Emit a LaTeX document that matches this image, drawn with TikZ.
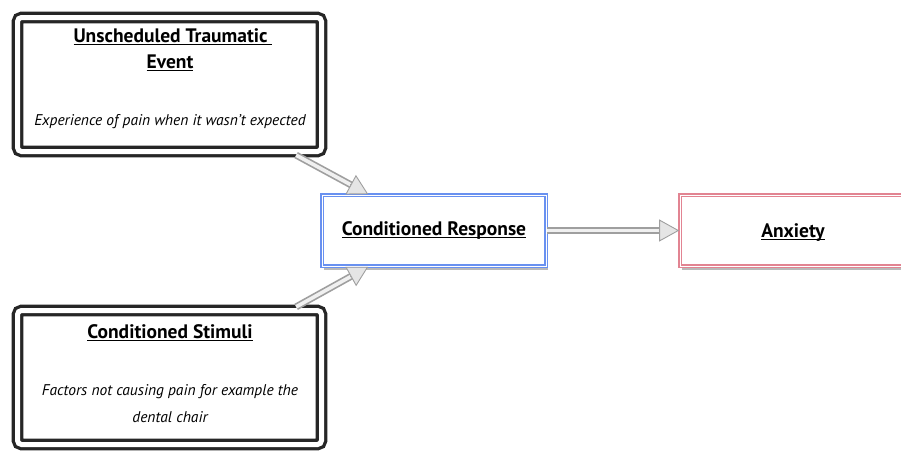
\documentclass[tikz,border=0pt]{standalone}
\usepackage{fontspec}
\setmainfont{PT Sans}
\usetikzlibrary{shadows,arrows.meta,calc}
\newcommand\myul[1]{\setbox0\hbox{#1}\rlap{\rule[-3pt]{\wd0}{1.2pt}}\box0}
\definecolor{crblue}{RGB}{105,145,240}
\definecolor{anpink}{RGB}{226,132,146}
\tikzset{
  blackbox/.style={draw=black!85, double=white, double distance=5pt, line width=3.3pt,
    rounded corners=4pt, fill=white, minimum width=304pt, minimum height=134pt,
    drop shadow={shadow xshift=2pt, shadow yshift=-4pt, opacity=0.55}},
  colbox/.style={double=white, double distance=0.7pt, line width=1.6pt, fill=white,
    minimum width=224pt, minimum height=71pt,
    drop shadow={shadow xshift=2pt, shadow yshift=-4pt, opacity=0.55}},
  ttl/.style={anchor=base, font=\fontsize{19.5}{22}\selectfont\bfseries, inner sep=0pt},
  itx/.style={anchor=base, font=\fontsize{15.5}{18}\selectfont\itshape, inner sep=0pt},
  shaft/.style={line width=7pt, draw=gray!75, shorten >=19pt,
    postaction={draw=gray!12, line width=3.6pt, shorten >=18.5pt}},
  headtip/.style={draw=gray!75, line width=0.9pt,
    -{Triangle[length=20pt,width=22pt,fill=gray!20]}},
}
\begin{document}
\begin{tikzpicture}[x=1pt,y=-1pt]
\useasboundingbox (0,0) rectangle (901,450);
% boxes
\node[blackbox] (ev) at (169.5,84.5) {};
\node[blackbox] (st) at (169.5,377.5) {};
\node[colbox, draw=crblue] (cr) at (434,230.5) {};
\node[colbox, draw=anpink] (an) at (792,230.5) {};
% texts
\node[ttl] (evt1) at (173,42) {\myul{Unscheduled Traumatic\ }};
\node[ttl] (evt2) at (170,68) {\myul{Event}};
\node[itx] (evt3) at (170,125) {Experience of pain when it wasn't expected};
\node[ttl] (stt1) at (170,338) {\myul{Conditioned Stimuli}};
\node[itx] (stt2) at (170,395) {Factors not causing pain for example the};
\node[itx] (stt3) at (170,422) {dental chair};
\node[ttl] (crt) at (434,235) {\myul{Conditioned Response}};
\node[ttl] (ant) at (793,237) {\myul{Anxiety}};
% connector ends
\coordinate (p1) at ([xshift=-27pt,yshift=-2pt]ev.south east);
\coordinate (q1) at ([xshift=47pt]cr.north west);
\coordinate (p2) at ([xshift=-27pt,yshift=2pt]st.north east);
\coordinate (q2) at ([xshift=47pt]cr.south west);
% arrows
\draw[shaft] (p1) -- (q1);
\draw[headtip] ($(q1)!20.5pt!(p1)$) -- (q1);
\draw[shaft] (p2) -- (q2);
\draw[headtip] ($(q2)!20.5pt!(p2)$) -- (q2);
\draw[shaft] (cr.east) -- (an.west);
\draw[headtip] ($(an.west)!20.5pt!(cr.east)$) -- (an.west);
\end{tikzpicture}
\end{document}
